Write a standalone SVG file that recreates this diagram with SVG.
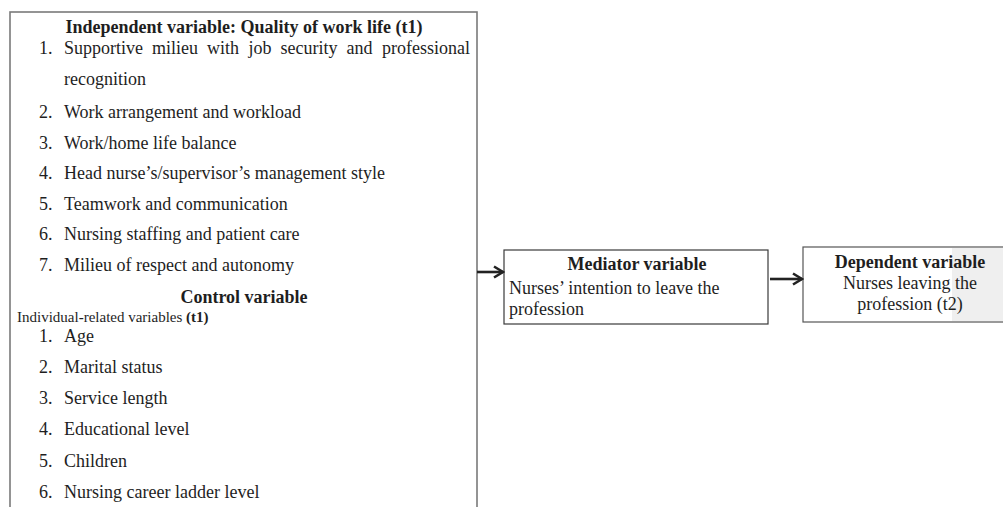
<svg xmlns="http://www.w3.org/2000/svg" width="1003" height="507" viewBox="0 0 1003 507">
<defs>
<marker id="ah" markerUnits="userSpaceOnUse" markerWidth="14" markerHeight="16" refX="12" refY="7" orient="auto">
<path d="M3,1.5 L12,7 L3,12.5" fill="none" stroke="#222" stroke-width="2.6" stroke-linejoin="miter"/>
</marker>
</defs>
<style>
text{font-family:"Liberation Serif","Times New Roman",serif;fill:#1e1e1e;font-size:18px}
.b{font-weight:bold}
.s{font-size:15px}
.c{text-anchor:middle}
.conn{stroke:#222;stroke-width:2.6;fill:none}
</style>
<rect width="1003" height="507" fill="#fff"/>
<g id="independent-control">
<rect x="10" y="12" width="467" height="510" fill="#fff" stroke="#7a7a7a" stroke-width="1.6"/>
<text class="b c" x="244" y="33">Independent variable: Quality of work life (t1)</text>
<text x="39" y="54">1.</text>
<text y="54"><tspan x="64">Supportive</tspan><tspan x="152">milieu</tspan><tspan x="207">with</tspan><tspan x="248.5">job</tspan><tspan x="280.5">security</tspan><tspan x="346.5">and</tspan><tspan x="382">professional</tspan></text>
<text x="64" y="85">recognition</text>
<text x="39" y="118">2.</text><text x="64" y="118">Work arrangement and workload</text>
<text x="39" y="149">3.</text><text x="64" y="149">Work/home life balance</text>
<text x="39" y="179">4.</text><text x="64" y="179">Head nurse’s/supervisor’s management style</text>
<text x="39" y="210">5.</text><text x="64" y="210">Teamwork and communication</text>
<text x="39" y="240">6.</text><text x="64" y="240">Nursing staffing and patient care</text>
<text x="39" y="271">7.</text><text x="64" y="271">Milieu of respect and autonomy</text>
<text class="b c" x="244" y="303">Control variable</text>
<text class="s" x="17" y="322">Individual<tspan class="b">-</tspan>related variables <tspan class="b">(t1)</tspan></text>
<text x="39" y="342">1.</text><text x="64" y="342">Age</text>
<text x="39" y="373">2.</text><text x="64" y="373">Marital status</text>
<text x="39" y="404">3.</text><text x="64" y="404">Service length</text>
<text x="39" y="435">4.</text><text x="64" y="435">Educational level</text>
<text x="39" y="467">5.</text><text x="64" y="467">Children</text>
<text x="39" y="498">6.</text><text x="64" y="498">Nursing career ladder level</text>
</g>
<g id="mediator">
<rect x="504" y="250" width="264" height="74" fill="#fff" stroke="#3a3a3a" stroke-width="1.2"/>
<text class="b c" x="637" y="270">Mediator variable</text>
<text x="509" y="294">Nurses’ intention to leave the</text>
<text x="509" y="315">profession</text>
</g>
<g id="dependent">
<rect x="803" y="247" width="214" height="75" fill="#fff" stroke="#555" stroke-width="1.2"/>
<rect x="952" y="248" width="60" height="73" fill="#efefef"/>
<text class="b c" x="910" y="268">Dependent variable</text>
<text class="c" x="910" y="289">Nurses leaving the</text>
<text class="c" x="910" y="310">profession (t2)</text>
</g>
<g id="connectors">
<line class="conn" x1="477" y1="272" x2="503" y2="272" marker-end="url(#ah)"/>
<line class="conn" x1="770" y1="279" x2="802" y2="279" marker-end="url(#ah)"/>
</g>
</svg>
